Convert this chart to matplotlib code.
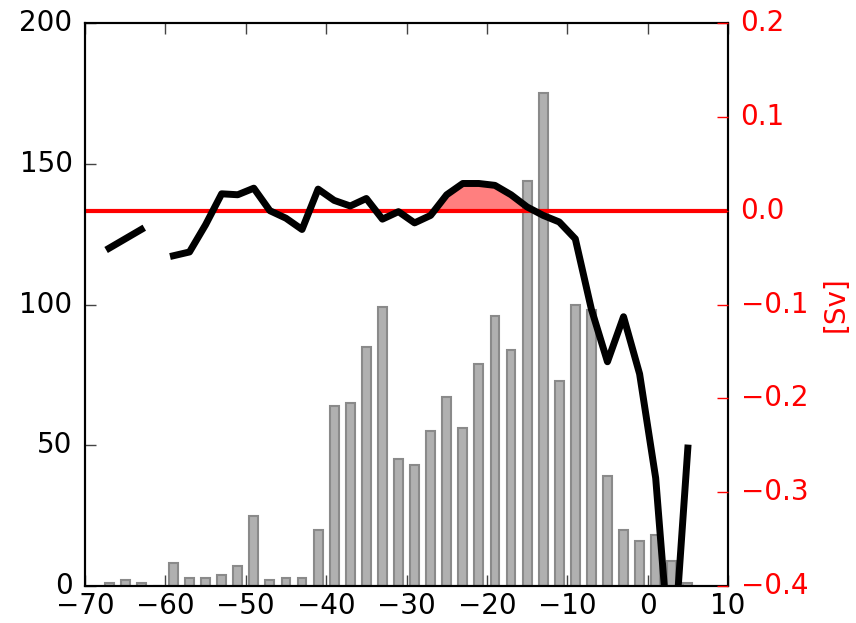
import numpy as np
import matplotlib
matplotlib.use("Agg")
import matplotlib.pyplot as plt

plt.style.use("classic")

# latitude bins (bar centres)
lat = np.arange(-67, 6, 2)

# counts per bin (left axis)
counts = [1, 2, 1, 0, 8, 3, 3, 4, 7, 25, 2, 3, 3, 20, 64, 65, 85, 99,
          45, 43, 55, 67, 56, 79, 96, 84, 144, 175, 73, 100, 98, 39,
          20, 16, 18, 9, 1]

# transport [Sv] (right axis), NaN where there is no value
transport = [-0.040, -0.030, -0.020, np.nan, -0.048, -0.044, -0.015, 0.018,
             0.017, 0.024, 0.000, -0.008, -0.020, 0.023, 0.011, 0.005,
             0.013, -0.009, -0.001, -0.013, -0.005, 0.017, 0.029, 0.029,
             0.027, 0.017, 0.004, -0.005, -0.012, -0.030, -0.105, -0.161,
             -0.113, -0.174, -0.285, -0.500, -0.253]

lat = np.array(lat, dtype=float)
transport = np.array(transport)

fig = plt.figure(figsize=(8.56, 6.23), dpi=100, facecolor="white")
ax = fig.add_axes([0.0993, 0.0594, 0.7512, 0.9036])

ax.bar(lat, counts, width=1.1, align="center", color="#b0b0b0",
       edgecolor="#8a8a8a", linewidth=1.5)
ax.set_xlim(-70, 10)
ax.set_ylim(0, 200)
ax.set_xticks(np.arange(-70, 11, 10))
ax.set_yticks(np.arange(0, 201, 50))
ax.tick_params(labelsize=20, direction="in", length=8, width=1, color="#444444")
ax.tick_params(axis="x", pad=4)
ax.tick_params(axis="y", pad=9)
for s in ax.spines.values():
    s.set_linewidth(1.5)

ax2 = ax.twinx()
ax2.axhline(0, color="red", lw=3)
ax2.plot(lat, transport, color="black", lw=5)
sel = (lat >= -27) & (lat <= -15)
ax2.fill_between(lat[sel], transport[sel], 0, where=transport[sel] > 0,
                 interpolate=True, color="red", alpha=0.5, linewidth=0)
ax2.set_ylim(-0.4, 0.2)
ax2.set_xlim(-70, 10)
ax2.set_yticks(np.arange(-0.4, 0.21, 0.1))
ax2.set_yticklabels(["\u22120.4", "\u22120.3", "\u22120.2", "\u22120.1",
                     "0.0", "0.1", "0.2"])
ax2.tick_params(axis="y", colors="red", labelsize=20, direction="in",
                length=8, width=1, pad=9)
ax2.set_ylabel("[Sv]", color="red", fontsize=20, labelpad=10)
for s in ax2.spines.values():
    s.set_linewidth(1.5)

fig.savefig("out.png", dpi=100, facecolor="white")
